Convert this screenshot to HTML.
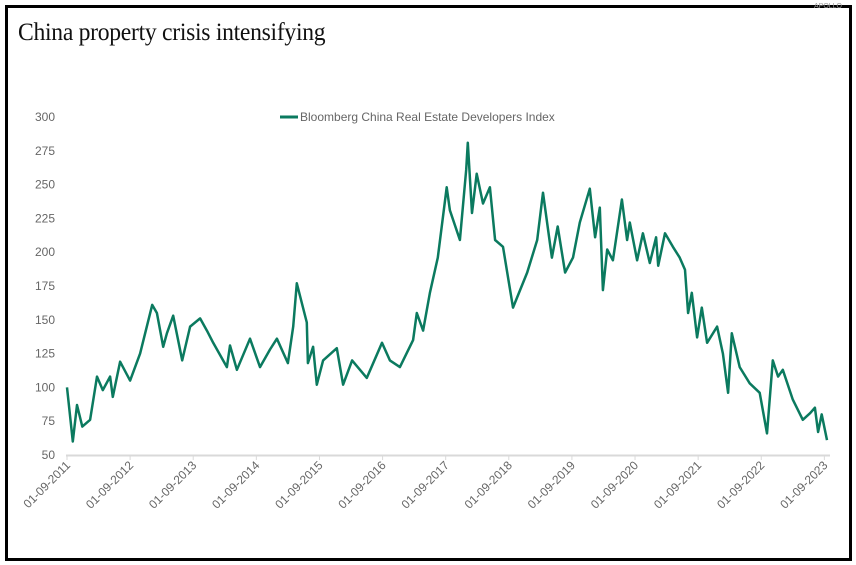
<!DOCTYPE html>
<html><head><meta charset="utf-8"><style>
body{margin:0;background:#fff;}
#wrap{position:relative;width:856px;height:565px;overflow:hidden;background:#fff;}
#frame{position:absolute;left:5px;top:5px;width:841px;height:550px;border:3px solid #000;}
#title{position:absolute;left:18px;top:19px;font-family:"Liberation Serif",serif;font-size:25px;color:#111;letter-spacing:-0.3px;transform:scaleX(0.945);transform-origin:0 0;white-space:nowrap;}
#brand{position:absolute;right:14px;top:3px;font-family:"Liberation Sans",sans-serif;font-size:7px;color:#999;}
svg{position:absolute;left:0;top:0;}
text{font-family:"Liberation Sans",sans-serif;fill:#666;}
</style></head><body>
<div id="wrap">
<div id="frame"></div>
<div id="title">China property crisis intensifying</div>
<div id="brand">APOLLO</div>
<svg id="chart" width="856" height="565"></svg>
</div>
<script>
const months=[0,1.1,1.9,2.9,4.4,5.7,6.8,8.2,8.7,10.1,12.0,13.9,16.2,17.1,18.3,19.0,20.2,21.9,23.4,25.3,26.6,27.8,30.4,31.0,32.3,34.8,36.7,38.6,39.9,42.0,43.0,43.7,45.6,45.8,46.8,47.5,48.7,51.3,52.5,54.2,57.0,59.9,61.4,63.3,65.8,66.5,67.7,69.0,70.5,72.2,72.8,74.7,75.9,76.2,77.0,77.9,79.1,80.4,81.4,82.9,84.8,87.5,89.4,90.5,92.2,93.3,94.7,96.2,97.5,99.4,100.4,101.3,101.9,102.7,103.8,105.5,106.5,107.0,108.4,109.5,110.8,112.0,112.4,113.7,115.2,116.5,117.5,118.1,118.8,119.8,120.7,121.7,123.6,124.7,125.7,126.4,127.9,129.8,131.7,133.1,134.2,135.2,136.1,138.0,139.9,141.3,142.2,142.8,143.5,144.5];
const values=[100,60,87,71,76,108,98,108,93,119,105,125,161,155,130,140,153,120,145,151,142,133,115,131,113,136,115,128,136,118,145,177,148,118,130,102,120,129,102,120,107,133,120,115,135,155,142,170,196,248,231,209,261,281,229,258,236,248,209,204,159,185,209,244,196,219,185,196,222,247,211,233,172,202,194,239,209,222,194,214,192,211,190,214,204,196,187,155,170,137,159,133,145,125,96,140,115,103,96,66,120,108,113,91,76,81,85,67,80,61];
const yTicks=[50,75,100,125,150,175,200,225,250,275,300];
const xTickLabels=["01-09-2011","01-09-2012","01-09-2013","01-09-2014","01-09-2015","01-09-2016","01-09-2017","01-09-2018","01-09-2019","01-09-2020","01-09-2021","01-09-2022","01-09-2023"];
const seriesName="Bloomberg China Real Estate Developers Index";

const svg=document.getElementById('chart');
const NS='http://www.w3.org/2000/svg';
const x0=67,x1=827,mMax=144.5;
const xS=m=>x0+(m/mMax)*(x1-x0);
const yS=v=>455-(v-50)*(338/250);
function mk(tag,attrs){const e=document.createElementNS(NS,tag);for(const k in attrs)e.setAttribute(k,attrs[k]);svg.appendChild(e);return e;}

yTicks.forEach(v=>{
  const t=mk('text',{x:55,y:yS(v)+4,'text-anchor':'end','font-size':12});
  t.textContent=v;
  
  
});
const ax=mk('line',{x1:66,x2:830,y1:455.5,y2:455.5,stroke:'#d9d9d9','stroke-width':2});


xTickLabels.forEach((lab,i)=>{
  const x=xS(i*12);
  const tk=mk('line',{x1:x,x2:x,y1:455,y2:460,stroke:'#d9d9d9','stroke-width':1});
  
  
  const t=mk('text',{x:x+4,y:466,'text-anchor':'end','font-size':12,transform:`rotate(-45 ${x+4} 466)`});
  t.textContent=lab;
  
  
});
const d=months.map((m,i)=>(i?'L':'M')+xS(m).toFixed(1)+','+yS(values[i]).toFixed(1)).join(' ');
const p=mk('path',{d:d,fill:'none',stroke:'#0b7a5f','stroke-width':2.5,'stroke-linejoin':'round'});


const ll=mk('line',{x1:280,x2:298,y1:117,y2:117,stroke:'#0b7a5f','stroke-width':3});


const lt=mk('text',{x:300,y:121,'font-size':12,fill:'#555'});
lt.textContent=seriesName;


</script>
</body></html>
